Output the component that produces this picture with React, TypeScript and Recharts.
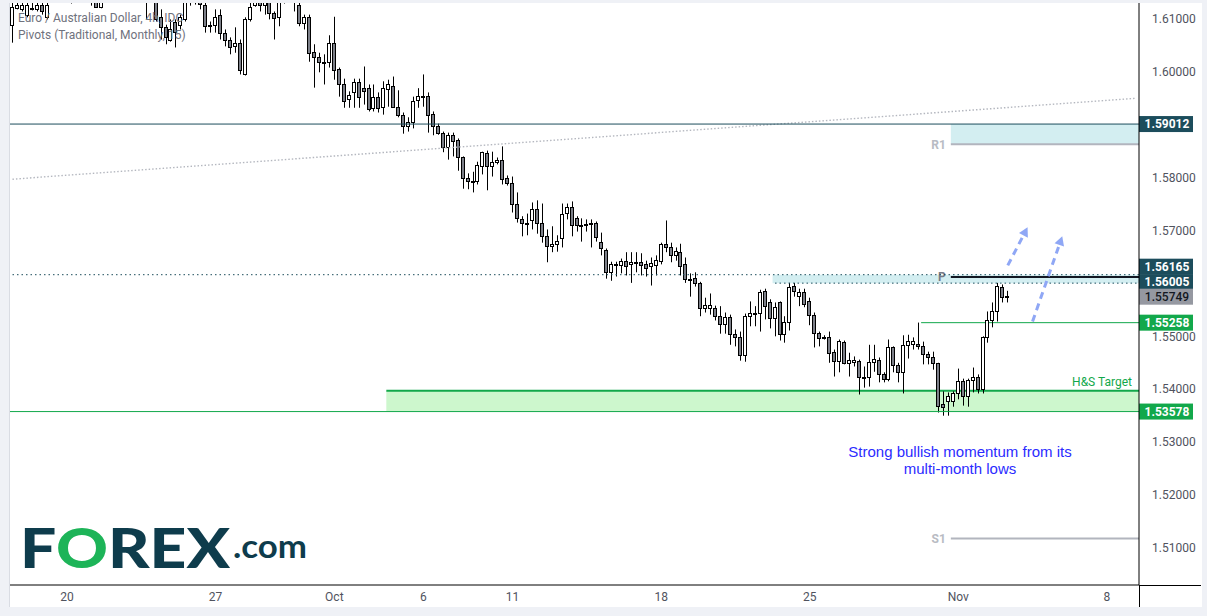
import React from 'react'
import { ComposedChart, Bar, XAxis, YAxis, ReferenceLine, ReferenceArea } from 'recharts'

// EUR/AUD 4h candles, one entry per bar (oldest first)
const OPEN = [
  1.6089, 1.6121, 1.6118, 1.6108, 1.6121, 1.6118, 1.6127, 1.6103, 1.6140, 1.6144,
  1.6152, 1.6165, 1.6148, 1.6140, 1.6163, 1.6174, 1.6148, 1.6131, 1.6123, 1.6139,
  1.6159, 1.6178, 1.6171, 1.6152, 1.6142, 1.6155, 1.6167, 1.6155, 1.6142, 1.6131,
  1.6103, 1.6084, 1.6061, 1.6095, 1.6089, 1.6099, 1.6131, 1.6133, 1.6135, 1.6127,
  1.6086, 1.6089, 1.6108, 1.6074, 1.6061, 1.6048, 1.6055, 1.5995, 1.6099, 1.6127,
  1.6131, 1.6127, 1.6131, 1.6112, 1.6103, 1.6131, 1.6142, 1.6140, 1.6127, 1.6093,
  1.6104, 1.6038, 1.6027, 1.6018, 1.6018, 1.6055, 1.6006, 1.5976, 1.5948, 1.5961,
  1.5980, 1.5970, 1.5970, 1.5932, 1.5953, 1.5934, 1.5967, 1.5974, 1.5934, 1.5919,
  1.5898, 1.5906, 1.5946, 1.5955, 1.5955, 1.5921, 1.5898, 1.5885, 1.5857, 1.5880,
  1.5872, 1.5838, 1.5800, 1.5793, 1.5794, 1.5821, 1.5846, 1.5821, 1.5830, 1.5834,
  1.5800, 1.5789, 1.5751, 1.5721, 1.5715, 1.5719, 1.5740, 1.5715, 1.5689, 1.5670,
  1.5675, 1.5685, 1.5734, 1.5744, 1.5723, 1.5708, 1.5713, 1.5713, 1.5715, 1.5679,
  1.5664, 1.5621, 1.5636, 1.5634, 1.5643, 1.5636, 1.5640, 1.5640, 1.5636, 1.5632,
  1.5634, 1.5643, 1.5675, 1.5668, 1.5653, 1.5660, 1.5636, 1.5609, 1.5611, 1.5601,
  1.5553, 1.5553, 1.5553, 1.5538, 1.5524, 1.5536, 1.5505, 1.5498, 1.5464, 1.5539,
  1.5545, 1.5545, 1.5585, 1.5564, 1.5534, 1.5564, 1.5505, 1.5528, 1.5596, 1.5577,
  1.5583, 1.5566, 1.5541, 1.5507, 1.5498, 1.5498, 1.5471, 1.5454, 1.5490, 1.5449,
  1.5452, 1.5454, 1.5424, 1.5424, 1.5452, 1.5456, 1.5428, 1.5420, 1.5479, 1.5445,
  1.5432, 1.5484, 1.5486, 1.5486, 1.5481, 1.5467, 1.5460, 1.5449, 1.5373, 1.5377,
  1.5377, 1.5392, 1.5415, 1.5388, 1.5417, 1.5424, 1.5401, 1.5498, 1.5530, 1.5547,
  1.5594, 1.5576,
]
const HIGH = [
  1.6146, 1.6142, 1.6133, 1.6137, 1.6140, 1.6144, 1.6140, 1.6137, 1.6152, 1.6159,
  1.6174, 1.6178, 1.6155, 1.6171, 1.6184, 1.6182, 1.6155, 1.6144, 1.6140, 1.6167,
  1.6186, 1.6193, 1.6182, 1.6159, 1.6163, 1.6174, 1.6178, 1.6174, 1.6155, 1.6140,
  1.6118, 1.6089, 1.6099, 1.6099, 1.6108, 1.6140, 1.6146, 1.6146, 1.6142, 1.6137,
  1.6095, 1.6118, 1.6118, 1.6080, 1.6065, 1.6084, 1.6061, 1.6103, 1.6140, 1.6142,
  1.6142, 1.6144, 1.6140, 1.6114, 1.6142, 1.6152, 1.6155, 1.6148, 1.6137, 1.6108,
  1.6108, 1.6052, 1.6036, 1.6033, 1.6069, 1.6104, 1.6008, 1.5987, 1.5963, 1.5987,
  1.5987, 1.6010, 1.5976, 1.5976, 1.5961, 1.5982, 1.5985, 1.5991, 1.5965, 1.5923,
  1.5914, 1.5953, 1.5969, 1.5995, 1.5961, 1.5925, 1.5902, 1.5887, 1.5885, 1.5885,
  1.5874, 1.5840, 1.5808, 1.5811, 1.5830, 1.5849, 1.5851, 1.5849, 1.5838, 1.5859,
  1.5804, 1.5802, 1.5772, 1.5727, 1.5732, 1.5753, 1.5757, 1.5751, 1.5702, 1.5708,
  1.5691, 1.5751, 1.5751, 1.5755, 1.5727, 1.5723, 1.5721, 1.5721, 1.5717, 1.5696,
  1.5666, 1.5641, 1.5641, 1.5647, 1.5659, 1.5659, 1.5659, 1.5657, 1.5643, 1.5649,
  1.5653, 1.5677, 1.5719, 1.5677, 1.5668, 1.5675, 1.5649, 1.5619, 1.5621, 1.5603,
  1.5573, 1.5581, 1.5558, 1.5557, 1.5545, 1.5541, 1.5513, 1.5509, 1.5543, 1.5566,
  1.5557, 1.5588, 1.5590, 1.5570, 1.5564, 1.5566, 1.5538, 1.5601, 1.5601, 1.5590,
  1.5590, 1.5573, 1.5545, 1.5509, 1.5502, 1.5509, 1.5475, 1.5494, 1.5492, 1.5469,
  1.5462, 1.5456, 1.5443, 1.5484, 1.5484, 1.5460, 1.5432, 1.5494, 1.5481, 1.5450,
  1.5502, 1.5503, 1.5498, 1.5526, 1.5490, 1.5471, 1.5471, 1.5450, 1.5396, 1.5394,
  1.5396, 1.5439, 1.5420, 1.5420, 1.5441, 1.5428, 1.5500, 1.5547, 1.5564, 1.5601,
  1.5598, 1.5586,
]
const LOW = [
  1.6055, 1.6118, 1.6114, 1.6103, 1.6116, 1.6114, 1.6108, 1.6099, 1.6131, 1.6133,
  1.6146, 1.6144, 1.6129, 1.6139, 1.6155, 1.6142, 1.6125, 1.6121, 1.6120, 1.6137,
  1.6155, 1.6163, 1.6144, 1.6131, 1.6139, 1.6148, 1.6146, 1.6099, 1.6139, 1.6095,
  1.6061, 1.6052, 1.6057, 1.6046, 1.6080, 1.6095, 1.6125, 1.6127, 1.6118, 1.6074,
  1.6074, 1.6074, 1.6061, 1.6048, 1.6033, 1.6036, 1.5995, 1.5993, 1.6095, 1.6123,
  1.6114, 1.6108, 1.6099, 1.6061, 1.6086, 1.6129, 1.6137, 1.6114, 1.6086, 1.6080,
  1.6019, 1.5970, 1.5999, 1.5976, 1.6008, 1.5985, 1.5953, 1.5932, 1.5932, 1.5932,
  1.5932, 1.5938, 1.5925, 1.5925, 1.5923, 1.5919, 1.5934, 1.5932, 1.5914, 1.5883,
  1.5887, 1.5893, 1.5932, 1.5934, 1.5885, 1.5880, 1.5881, 1.5848, 1.5834, 1.5840,
  1.5813, 1.5779, 1.5778, 1.5772, 1.5787, 1.5806, 1.5776, 1.5802, 1.5825, 1.5787,
  1.5785, 1.5734, 1.5715, 1.5689, 1.5691, 1.5702, 1.5694, 1.5677, 1.5640, 1.5659,
  1.5660, 1.5668, 1.5721, 1.5689, 1.5698, 1.5679, 1.5698, 1.5668, 1.5679, 1.5653,
  1.5609, 1.5605, 1.5613, 1.5619, 1.5615, 1.5601, 1.5621, 1.5615, 1.5613, 1.5596,
  1.5615, 1.5636, 1.5659, 1.5640, 1.5643, 1.5615, 1.5601, 1.5575, 1.5594, 1.5538,
  1.5545, 1.5541, 1.5530, 1.5505, 1.5505, 1.5484, 1.5481, 1.5454, 1.5452, 1.5519,
  1.5519, 1.5509, 1.5532, 1.5515, 1.5500, 1.5492, 1.5488, 1.5511, 1.5575, 1.5557,
  1.5555, 1.5521, 1.5479, 1.5481, 1.5494, 1.5450, 1.5424, 1.5432, 1.5447, 1.5424,
  1.5443, 1.5390, 1.5403, 1.5405, 1.5433, 1.5413, 1.5413, 1.5415, 1.5432, 1.5413,
  1.5392, 1.5458, 1.5475, 1.5475, 1.5447, 1.5447, 1.5437, 1.5356, 1.5350, 1.5350,
  1.5367, 1.5381, 1.5369, 1.5367, 1.5394, 1.5392, 1.5392, 1.5488, 1.5517, 1.5528,
  1.5564, 1.5564,
]
const CLOSE = [
  1.6123, 1.6127, 1.6127, 1.6127, 1.6118, 1.6127, 1.6114, 1.6127, 1.6144, 1.6152,
  1.6165, 1.6148, 1.6140, 1.6163, 1.6174, 1.6148, 1.6133, 1.6123, 1.6139, 1.6159,
  1.6178, 1.6171, 1.6152, 1.6142, 1.6155, 1.6167, 1.6155, 1.6142, 1.6146, 1.6099,
  1.6084, 1.6065, 1.6080, 1.6076, 1.6103, 1.6131, 1.6133, 1.6135, 1.6129, 1.6086,
  1.6089, 1.6104, 1.6074, 1.6061, 1.6046, 1.6055, 1.6004, 1.6099, 1.6123, 1.6131,
  1.6127, 1.6133, 1.6112, 1.6101, 1.6131, 1.6142, 1.6140, 1.6133, 1.6093, 1.6104,
  1.6036, 1.6027, 1.6018, 1.6017, 1.6055, 1.6004, 1.5976, 1.5944, 1.5957, 1.5980,
  1.5953, 1.5963, 1.5929, 1.5953, 1.5932, 1.5969, 1.5976, 1.5934, 1.5919, 1.5898,
  1.5906, 1.5944, 1.5955, 1.5954, 1.5919, 1.5898, 1.5885, 1.5857, 1.5881, 1.5870,
  1.5838, 1.5800, 1.5793, 1.5792, 1.5823, 1.5848, 1.5821, 1.5830, 1.5834, 1.5798,
  1.5789, 1.5751, 1.5723, 1.5715, 1.5714, 1.5740, 1.5715, 1.5689, 1.5670, 1.5675,
  1.5681, 1.5732, 1.5744, 1.5710, 1.5710, 1.5711, 1.5712, 1.5714, 1.5687, 1.5666,
  1.5621, 1.5636, 1.5637, 1.5643, 1.5632, 1.5641, 1.5639, 1.5634, 1.5630, 1.5638,
  1.5645, 1.5675, 1.5668, 1.5653, 1.5662, 1.5632, 1.5609, 1.5608, 1.5600, 1.5553,
  1.5560, 1.5560, 1.5538, 1.5524, 1.5536, 1.5505, 1.5498, 1.5464, 1.5539, 1.5545,
  1.5544, 1.5583, 1.5558, 1.5534, 1.5555, 1.5505, 1.5528, 1.5594, 1.5586, 1.5583,
  1.5562, 1.5541, 1.5507, 1.5496, 1.5497, 1.5469, 1.5454, 1.5492, 1.5449, 1.5456,
  1.5456, 1.5424, 1.5423, 1.5452, 1.5458, 1.5428, 1.5420, 1.5479, 1.5445, 1.5432,
  1.5483, 1.5492, 1.5492, 1.5481, 1.5466, 1.5460, 1.5449, 1.5369, 1.5367, 1.5388,
  1.5392, 1.5415, 1.5388, 1.5417, 1.5424, 1.5401, 1.5498, 1.5530, 1.5547, 1.5596,
  1.5575, 1.5575,
]

// bar slots on the time axis (candles + empty space to the right)
const SLOT_COUNT = 228
const LAST_SLOT = SLOT_COUNT - 1

const DAY_TICKS = [11, 41, 65, 83, 101, 131, 161, 191, 221]
const DAY_LABELS = ['20', '27', 'Oct', '6', '11', '18', '25', 'Nov', '8']
// 1.59 and 1.56 sit under the price tags
const PRICE_TICKS = [1.51, 1.52, 1.53, 1.54, 1.55, 1.57, 1.58, 1.6, 1.61]

// drawn levels
const RESISTANCE = 1.59012
const PIVOT_R1 = 1.5863
const PIVOT_P = 1.5612
const PIVOT_S1 = 1.5118
const BAND_TOP = 1.56165
const BAND_BOTTOM = 1.56005
const NECKLINE = 1.55258
const TARGET_TOP = 1.5397
const TARGET_BOTTOM = 1.53578
const LAST_PRICE = 1.55749

const PIVOT_START = 190
const BAND_START = 154
const NECK_START = 184
const TARGET_START = 76

const TREND_LINE = [
  { x: 0, y: 1.5797 },
  { x: LAST_SLOT, y: 1.595 },
]
const ARROW_LEFT = [
  { x: 201, y: 1.5634 },
  { x: 205, y: 1.5706 },
]
const ARROW_RIGHT = [
  { x: 206, y: 1.5528 },
  { x: 212, y: 1.5689 },
]

const COLORS = {
  frame: '#eff1f6',
  teal: '#1c4d5c',
  green: '#12a84b',
  greenFill: '#cdf7cd',
  band: '#d3eef1',
  pivot: '#b2b5be',
  bear: '#7d8089',
  arrow: '#8fa7f5',
  axisText: '#50535e',
}

const EPS = 0.000001

const rows = Array.from({ length: SLOT_COUNT }, (_, i) =>
  i < OPEN.length
    ? { i, open: OPEN[i], high: HIGH[i], low: LOW[i], close: CLOSE[i], range: [LOW[i], HIGH[i]] }
    : { i }
)

function Candle(props: any) {
  const { x, y, width, height, payload } = props
  if (!payload || payload.open == null) return null
  const { open, close, high, low } = payload
  const top = Math.min(y, y + height)
  const h = Math.abs(height)
  const k = h / (high - low)
  const cx = Math.floor(x + width / 2) + 0.5
  const yOf = (v: number) => top + (high - v) * k
  const bodyTop = Math.round(yOf(Math.max(open, close)))
  let bodyBottom = Math.round(yOf(Math.min(open, close)))
  if (bodyBottom - bodyTop < 1) bodyBottom = bodyTop + 1
  const up = close >= open
  return (
    <g>
      <line x1={cx} x2={cx} y1={top} y2={top + h} stroke="#000" strokeWidth={1} />
      <rect
        x={cx - 2}
        y={bodyTop + 0.5}
        width={3}
        height={bodyBottom - bodyTop}
        fill={up ? '#fff' : COLORS.bear}
        stroke="#000"
        strokeWidth={1}
      />
    </g>
  )
}

// horizontal level drawn through a ReferenceArea so it reaches the price scale
function levelShape(color: string, strokeWidth: number, dash?: string, tag?: string, tagColor?: string) {
  return (p: any) => (
    <g>
      <line
        x1={p.x}
        x2={p.x + p.width}
        y1={p.y}
        y2={p.y}
        stroke={color}
        strokeWidth={strokeWidth}
        strokeDasharray={dash}
      />
      {tag && (
        <text
          x={p.x - 5}
          y={p.y}
          dy="0.36em"
          textAnchor="end"
          fontSize={12}
          fontWeight={700}
          fontFamily="Roboto"
          fill={tagColor}
        >
          {tag}
        </text>
      )}
    </g>
  )
}

function targetShape(p: any) {
  return (
    <g>
      <line x1={p.x} x2={p.x + p.width} y1={p.y} y2={p.y} stroke={COLORS.green} strokeWidth={2} />
      <text
        x={p.x + p.width - 7}
        y={p.y - 9}
        textAnchor="end"
        fontSize={12}
        fontFamily="Roboto"
        fill={COLORS.green}
        dy="0.36em"
      >
        H&amp;S Target
      </text>
    </g>
  )
}

function priceTag(text: string, bg: string, fg: string, shift = 0, weight = 700) {
  return (p: any) => {
    const left = p.x + p.width
    const cy = p.y + shift
    return (
      <g>
        <rect x={left} y={cy - 8} width={54} height={16} fill={bg} />
        <text
          x={left + 28}
          y={cy}
          dy="0.36em"
          textAnchor="middle"
          fontSize={12}
          fontWeight={weight}
          fontFamily="Roboto"
          fill={fg}
        >
          {text}
        </text>
      </g>
    )
  }
}

function ArrowShape(p: any) {
  const { x1, y1, x2, y2 } = p
  const ang = Math.atan2(y2 - y1, x2 - x1)
  const hl = 9
  const hw = 5
  const bx = x2 - hl * Math.cos(ang)
  const by = y2 - hl * Math.sin(ang)
  const pts = [
    [x2, y2],
    [bx + hw * Math.sin(ang), by - hw * Math.cos(ang)],
    [bx - hw * Math.sin(ang), by + hw * Math.cos(ang)],
  ]
  return (
    <g>
      <line x1={x1} y1={y1} x2={bx} y2={by} stroke={COLORS.arrow} strokeWidth={3} strokeDasharray="7 5" />
      <polygon points={pts.map((q) => q.join(',')).join(' ')} fill={COLORS.arrow} />
    </g>
  )
}

export default function App() {
  return (
    <div
      style={{
        position: 'absolute',
        left: 0,
        top: 0,
        width: 1207,
        height: 616,
        background: COLORS.frame,
        overflow: 'hidden',
      }}
    >
      <div
        style={{
          position: 'absolute',
          left: 9,
          top: 3,
          width: 1192,
          height: 604,
          background: '#fff',
          borderLeft: '1px solid #d9dce3',
        }}
      />
      <div style={{ position: 'absolute', left: 0, top: 3 }}>
        <ComposedChart
          width={1207}
          height={604}
          data={rows}
          margin={{ top: 0, right: 6, bottom: 0, left: 10 }}
          barCategoryGap={1}
        >
          <XAxis
            dataKey="i"
            type="category"
            ticks={DAY_TICKS}
            interval={0}
            tickFormatter={(v) => DAY_LABELS[DAY_TICKS.indexOf(v)] ?? ''}
            axisLine={{ stroke: '#000' }}
            tickLine={false}
            tickSize={0}
            tickMargin={7}
            height={22}
            tick={{ fill: COLORS.axisText, fontSize: 12, fontFamily: 'Roboto' }}
          />
          <YAxis
            orientation="right"
            type="number"
            domain={[1.503, 1.613]}
            allowDataOverflow
            ticks={PRICE_TICKS}
            interval={0}
            tickFormatter={(v) => Number(v).toFixed(5)}
            width={62}
            axisLine={{ stroke: '#000' }}
            tickLine={false}
            tickSize={0}
            tickMargin={13}
            tick={{ fill: COLORS.axisText, fontSize: 12, fontFamily: 'Roboto' }}
          />

          <ReferenceArea x1={PIVOT_START} y1={PIVOT_R1} y2={RESISTANCE} fill={COLORS.band} fillOpacity={1} stroke="none" />
          <ReferenceArea x1={BAND_START} y1={BAND_BOTTOM} y2={BAND_TOP} fill={COLORS.band} fillOpacity={1} stroke="none" />
          <ReferenceArea x1={TARGET_START} y1={TARGET_BOTTOM} y2={TARGET_TOP} fill={COLORS.greenFill} fillOpacity={1} stroke="none" />

          <ReferenceLine segment={TREND_LINE} stroke="#b4b7bf" strokeWidth={1.4} strokeDasharray="1.5 2" />
          <ReferenceLine y={BAND_TOP} stroke={COLORS.teal} strokeDasharray="1.5 3" />
          <ReferenceLine
            segment={[
              { x: BAND_START, y: BAND_BOTTOM },
              { x: LAST_SLOT, y: BAND_BOTTOM },
            ]}
            stroke={COLORS.teal}
            strokeDasharray="1.5 3"
          />

          <Bar dataKey="range" shape={Candle} isAnimationActive={false} />

          <ReferenceLine y={RESISTANCE} stroke={COLORS.teal} strokeWidth={1} />
          <ReferenceLine y={TARGET_BOTTOM} stroke={COLORS.green} strokeWidth={1} />
          <ReferenceArea x1={TARGET_START} y1={TARGET_TOP} y2={TARGET_TOP + EPS} shape={targetShape} />
          <ReferenceArea x1={NECK_START} y1={NECKLINE} y2={NECKLINE + EPS} shape={levelShape(COLORS.green, 1)} />
          <ReferenceArea
            x1={PIVOT_START}
            y1={PIVOT_R1}
            y2={PIVOT_R1 + EPS}
            shape={levelShape(COLORS.pivot, 2, undefined, 'R1', '#b8bbc3')}
          />
          <ReferenceArea
            x1={PIVOT_START}
            y1={PIVOT_P}
            y2={PIVOT_P + EPS}
            shape={levelShape('#131722', 2, undefined, 'P', '#787b86')}
          />
          <ReferenceArea
            x1={PIVOT_START}
            y1={PIVOT_S1}
            y2={PIVOT_S1 + EPS}
            shape={levelShape(COLORS.pivot, 2, undefined, 'S1', '#b8bbc3')}
          />

          <ReferenceLine segment={ARROW_LEFT} shape={ArrowShape} />
          <ReferenceLine segment={ARROW_RIGHT} shape={ArrowShape} />

          <ReferenceArea y1={RESISTANCE} y2={RESISTANCE + EPS} shape={priceTag('1.59012', COLORS.teal, '#fff')} />
          <ReferenceArea y1={BAND_TOP} y2={BAND_TOP + EPS} shape={priceTag('1.56165', COLORS.teal, '#fff', -8)} />
          <ReferenceArea y1={BAND_BOTTOM} y2={BAND_BOTTOM + EPS} shape={priceTag('1.56005', COLORS.teal, '#fff', -1)} />
          <ReferenceArea
            y1={LAST_PRICE}
            y2={LAST_PRICE + EPS}
            shape={priceTag('1.55749', '#9598a1', '#131722', 0, 500)}
          />
          <ReferenceArea y1={NECKLINE} y2={NECKLINE + EPS} shape={priceTag('1.55258', COLORS.green, '#fff')} />
          <ReferenceArea
            y1={TARGET_BOTTOM}
            y2={TARGET_BOTTOM + EPS}
            shape={priceTag('1.53578', COLORS.green, '#fff')}
          />
        </ComposedChart>
      </div>

      {/* axis lines continue into the corner */}
      <div style={{ position: 'absolute', left: 1139, top: 585, width: 62, height: 1, background: '#000' }} />
      <div style={{ position: 'absolute', left: 1139, top: 585, width: 1, height: 22, background: '#000' }} />

      <div
        style={{
          position: 'absolute',
          left: 18,
          top: 10,
          fontFamily: 'Roboto',
          fontSize: 12,
          lineHeight: '17px',
          color: '#6f727d',
          whiteSpace: 'nowrap',
        }}
      >
        <div>Euro / Australian Dollar, 4h, IDC</div>
        <div>Pivots (Traditional, Monthly, 15)</div>
      </div>

      <div
        style={{
          position: 'absolute',
          left: 810,
          top: 443,
          width: 300,
          textAlign: 'center',
          fontFamily: '"Liberation Sans", Arial, sans-serif',
          fontSize: 15,
          lineHeight: '17px',
          color: '#2b2bff',
        }}
      >
        Strong bullish momentum from its
        <br />
        multi-month lows
      </div>

      <svg style={{ position: 'absolute', left: 0, top: 500 }} width={330} height={80}>
        <text
          x={20}
          y={68}
          fontFamily="Lato, 'Open Sans', sans-serif"
          fontWeight={900}
          fontSize={55}
          textLength={210}
          lengthAdjust="spacingAndGlyphs"
          fill="#0e3c4c"
        >
          F<tspan fill="#1db458">O</tspan>REX
        </text>
        <text
          x={233}
          y={58}
          fontFamily="Lato, 'Open Sans', sans-serif"
          fontWeight={700}
          fontSize={32}
          textLength={74}
          lengthAdjust="spacingAndGlyphs"
          fill="#0e3c4c"
        >
          .com
        </text>
      </svg>
    </div>
  )
}
